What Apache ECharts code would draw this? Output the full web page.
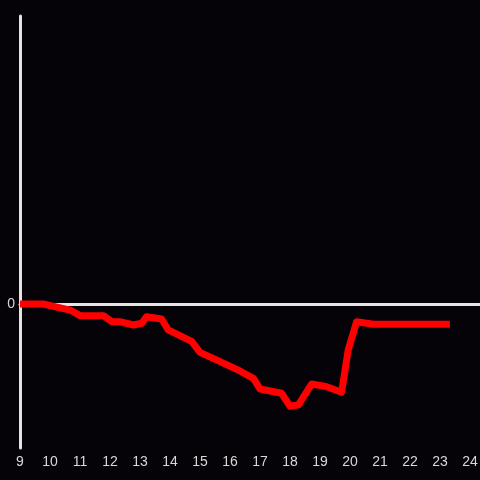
<!DOCTYPE html>
<html>
<head>
<meta charset="utf-8">
<script src="https://cdn.jsdelivr.net/npm/echarts@6/dist/echarts.min.js"></script>
<style>
  html, body { margin: 0; padding: 0; background: #050307; }
  #chart { width: 480px; height: 480px; }
</style>
</head>
<body>
<div id="chart"></div>
<script>
  // hour of day (decimal) and value
  const hours = [9, 9.77, 10.67, 11.0, 11.78, 12.06, 12.33, 12.78, 13.06, 13.22, 13.72, 13.94,
    14.72, 15.0, 15.67, 16.33, 16.78, 17.0, 17.72, 18.0, 18.28, 18.72, 19.22, 19.72, 19.94,
    20.22, 20.78, 23.33];
  const values = [0, 0, -0.042, -0.081, -0.081, -0.123, -0.123, -0.146, -0.134, -0.088, -0.104, -0.18,
    -0.26, -0.336, -0.4, -0.465, -0.516, -0.59, -0.62, -0.71, -0.70, -0.556, -0.574, -0.613, -0.32,
    -0.123, -0.141, -0.141];
  const yTicks = [0]; // only label shown on the y axis

  const points = hours.map((h, i) => [h, values[i]]);

  const chart = echarts.init(document.getElementById('chart'));
  const axisColor = '#e4e4e4';
  const labelColor = '#d8d8d8';

  chart.setOption({
    backgroundColor: '#050307',
    animation: false,
    grid: { left: 20, right: 0, top: 16, bottom: 32, outerBoundsMode: 'none', containLabel: false },
    xAxis: {
      type: 'value',
      min: 9,
      max: 24.333,
      interval: 1,
      axisLine: { onZero: true, lineStyle: { color: axisColor, width: 3 } },
      axisTick: { show: false },
      splitLine: { show: false },
      axisLabel: {
        color: labelColor,
        fontSize: 14,
        fontFamily: 'Liberation Sans',
        margin: 7,
        showMaxLabel: false,
        hideOverlap: false,
        formatter: v => (Number.isInteger(v) ? String(v) : '')
      },
      position: 'bottom'
    },
    yAxis: {
      type: 'value',
      min: -1,
      max: 2,
      interval: 1,
      axisLine: { show: true, onZero: false, lineStyle: { color: axisColor, width: 3 } },
      axisTick: { show: false },
      splitLine: { show: false },
      axisLabel: {
        color: labelColor,
        fontSize: 14,
        fontFamily: 'Liberation Sans',
        margin: 5,
        formatter: v => (yTicks.includes(v) ? String(v) : '')
      }
    },
    series: [{
      type: 'line',
      data: points,
      showSymbol: false,
      lineStyle: { color: '#ff0000', width: 7, join: 'round' },
      z: 3
    }]
  });
</script>
</body>
</html>
